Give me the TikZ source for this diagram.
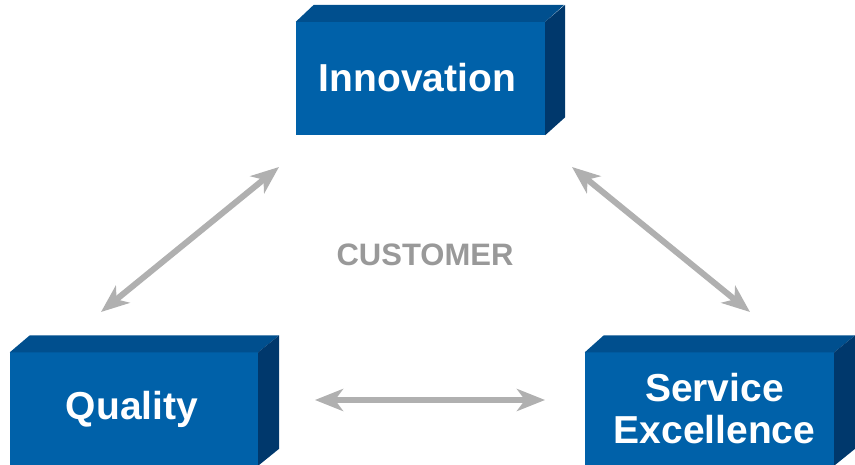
\documentclass[tikz,border=0pt]{standalone}
\usepackage{fontspec}
\setmainfont{Liberation Sans}
\usetikzlibrary{arrows.meta,calc}
\definecolor{frontblue}{HTML}{0061A9}
\definecolor{topblue}{HTML}{004F8E}
\definecolor{sideblue}{HTML}{00386C}
\definecolor{arrowgray}{HTML}{B0B0B0}
\definecolor{labelgray}{HTML}{999999}
\begin{document}
\begin{tikzpicture}[x=1pt,y=-1pt,
  front/.style={rectangle, fill=frontblue, inner sep=0pt,
    minimum width=249pt, minimum height=113pt},
  boxtext/.style={text=white, align=center, inner sep=0pt,
    font=\fontsize{39}{44}\selectfont\bfseries},
  topface/.style={fill=topblue},
  sideface/.style={fill=sideblue},
  biarrow/.style={draw=arrowgray, line width=6pt,
    {Stealth[length=28pt,width=22pt,inset=8pt]}-{Stealth[length=28pt,width=22pt,inset=8pt]}},
  label/.style={text=labelgray, font=\fontsize{31}{36}\selectfont\bfseries}]
\useasboundingbox (0,0) rectangle (855,465);
% Innovation
\node[front] (innov) at (420.5,78.5) {};
\fill[topface] (innov.north west) -- (innov.north east) -- ++(19,-17) -- ($(innov.north west)+(18,-17)$) -- cycle;
\fill[sideface] (innov.north east) -- ++(20,-17) -- ($(innov.south east)+(20,-18)$) -- (innov.south east) -- cycle;
\node[boxtext] (innovtext) at ($(innov.center)+(-3,-1)$) {Innovation};
% Quality
\node[front, minimum width=248pt] (qual) at (134,409) {};
\fill[topface] (qual.north west) -- (qual.north east) -- ++(21,-17) -- ($(qual.north west)+(20,-17)$) -- cycle;
\fill[sideface] (qual.north east) -- ++(21,-17) -- ($(qual.south east)+(21,-17)$) -- (qual.south east) -- cycle;
\node[boxtext] (qualtext) at ($(qual.center)+(-2,0)$) {Quality};
% Service Excellence
\node[front] (serv) at (709.5,409) {};
\fill[topface] (serv.north west) -- (serv.north east) -- ++(21,-17) -- ($(serv.north west)+(19,-17)$) -- cycle;
\fill[sideface] (serv.north east) -- ++(21,-17) -- ($(serv.south east)+(21,-17)$) -- (serv.south east) -- cycle;
\node[boxtext] (servtext) at ($(serv.center)+(5,0)$) {Service\\[-2pt]Excellence};
% center label
\node[label] (cust) at (425,255) {CUSTOMER};
% arrow endpoints
\coordinate (qi) at (101,312);
\coordinate (iq) at (279,167);
\coordinate (is) at (572,167);
\coordinate (si) at (750,312);
\coordinate (qs) at (315,400);
\coordinate (sq) at (545,400);
\draw[biarrow] (qi) -- (iq);
\draw[biarrow] (is) -- (si);
\draw[biarrow] (qs) -- (sq);
\end{tikzpicture}
\end{document}
